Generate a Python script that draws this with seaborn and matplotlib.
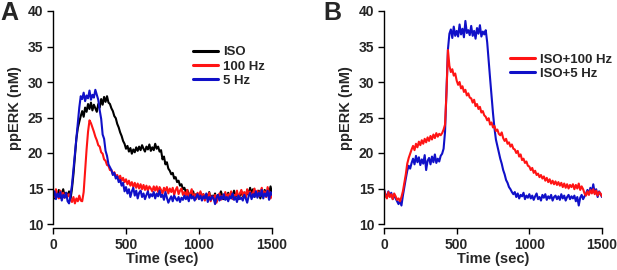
import matplotlib
matplotlib.use("Agg")
import matplotlib.pyplot as plt
import numpy as np
import seaborn as sns

# time axis, one reading every 10 sec
time_sec = np.arange(0, 1501, 10)

# panel A
iso = [
    14.2, 13.6, 14.5, 13.9, 14.8, 13.7, 14.3, 14.9, 13.8, 14.4,
    13.9, 14.6, 13.5, 15.0, 17.0, 19.5, 22.0, 23.5, 24.4, 25.2,
    25.9, 25.1, 26.4, 25.8, 26.9, 26.2, 27.1, 26.0, 26.8, 26.3,
    25.8, 26.9, 26.4, 27.6, 26.8, 27.9, 27.2, 28.0, 27.1, 26.9,
    26.3, 25.9, 25.2, 24.9, 24.1, 23.6, 22.9, 22.4, 21.7, 21.3,
    20.6, 21.0, 20.2, 20.7, 19.9, 20.5, 20.1, 20.8, 20.3, 20.9,
    20.4, 21.1, 20.6, 20.2, 20.9, 20.5, 21.2, 20.3, 20.8, 20.4,
    21.3, 20.6, 20.9, 20.2, 20.4, 19.1, 19.5, 18.4, 18.7, 17.8,
    17.5, 17.0, 17.2, 16.4, 16.6, 15.9, 16.1, 15.4, 15.6, 14.9,
    15.1, 14.5, 14.8, 14.1, 14.3, 13.9, 14.6, 13.7, 14.2, 14.0,
    13.6, 14.4, 13.9, 14.2, 13.5, 14.1, 13.8, 14.5, 13.4, 14.0,
    13.7, 14.3, 13.2, 14.1, 13.8, 14.6, 13.9, 13.5, 14.2, 13.8,
    14.4, 13.6, 14.1, 13.9, 14.7, 13.8, 14.3, 13.5, 14.0, 14.6,
    13.9, 14.2, 13.7, 14.8, 14.1, 15.1, 14.3, 14.9, 13.8, 14.5,
    14.1, 14.7, 13.6, 14.4, 14.0, 14.8, 13.9, 14.6, 14.2, 15.3,
    14.3,
]
hz100 = [
    14.5, 13.8, 14.9, 14.1, 13.6, 14.7, 14.0, 14.4, 13.7, 14.3,
    13.9, 14.2, 13.4, 13.1, 13.8, 12.9, 13.6, 13.2, 14.0, 13.3,
    13.2, 14.5, 17.5, 20.5, 23.0, 24.6, 24.2, 23.6, 23.0, 22.3,
    21.8, 21.1, 20.9, 20.1, 19.9, 19.1, 18.9, 18.3, 18.2, 17.6,
    17.6, 17.0, 17.3, 16.7, 16.9, 16.3, 16.8, 16.1, 16.5, 15.9,
    16.3, 15.6, 16.1, 15.4, 15.9, 15.2, 15.8, 15.1, 15.7, 15.0,
    15.6, 14.9, 15.5, 14.8, 15.4, 14.7, 15.3, 15.0, 14.6, 15.3,
    14.7, 15.3, 14.5, 15.2, 14.8, 14.3, 15.1, 14.6, 15.2, 14.3,
    15.0, 14.5, 15.1, 14.1, 14.8, 15.2, 14.2, 14.7, 15.0, 14.1,
    14.5, 14.0, 14.8, 13.6, 14.3, 14.9, 13.8, 14.2, 13.5, 14.4,
    13.9, 14.6, 13.7, 14.2, 13.3, 14.0, 13.6, 14.4, 13.2, 13.9,
    13.5, 14.1, 13.0, 13.8, 14.3, 13.4, 14.0, 13.7, 14.5, 13.6,
    14.2, 13.8, 14.6, 13.5, 14.1, 13.9, 14.7, 13.6, 14.3, 14.8,
    14.0, 14.5, 13.7, 14.9, 14.2, 14.6, 13.8, 14.4, 15.0, 14.1,
    14.7, 13.9, 14.5, 15.1, 14.0, 14.6, 13.8, 15.2, 14.3, 13.6,
    14.2,
]
hz5 = [
    14.0, 14.6, 13.5, 14.3, 13.8, 14.5, 13.3, 14.1, 13.7, 14.4,
    13.2, 12.9, 14.0, 15.5, 17.7, 19.9, 22.0, 24.2, 26.4, 28.0,
    27.6, 28.5, 27.3, 28.1, 27.7, 28.8, 27.5, 28.2, 27.8, 28.9,
    28.2, 27.5, 26.0, 24.8, 22.6, 22.0, 20.3, 19.6, 18.4, 18.0,
    17.6, 16.9, 17.2, 16.4, 16.7, 15.9, 16.2, 15.4, 15.8, 14.6,
    15.2, 14.3, 14.9, 13.8, 14.6, 15.1, 14.0, 14.7, 13.6, 14.4,
    14.7, 13.8, 14.3, 13.5, 14.1, 14.6, 13.7, 14.2, 13.9, 14.5,
    13.6, 14.3, 13.9, 14.7, 13.8, 14.1, 13.4, 14.5, 13.7, 13.0,
    13.5, 13.9, 13.2, 14.0, 13.6, 13.3, 13.8, 13.1, 13.7, 13.4,
    14.0, 13.5, 13.9, 13.2, 14.1, 13.6, 13.9, 13.3, 13.8, 14.2,
    13.5, 14.0, 13.3, 13.9, 13.6, 14.3, 13.1, 13.8, 13.4, 13.9,
    13.6, 12.8, 13.7, 14.1, 13.3, 13.9, 13.5, 14.2, 13.4, 13.8,
    13.2, 13.9, 13.6, 14.3, 13.4, 13.8, 13.1, 14.0, 13.5, 13.7,
    13.3, 14.1, 13.6, 13.0, 13.9, 14.4, 13.5, 14.2, 13.8, 14.6,
    13.7, 14.4, 13.9, 14.8, 13.6, 14.3, 13.9, 14.7, 13.4, 14.5,
    14.1,
]

# panel B
iso_hz100 = [
    14.8, 14.0, 13.6, 14.5, 13.8, 14.2, 13.5, 14.3, 13.9, 13.4,
    13.6, 13.2, 13.8, 14.6, 15.8, 17.0, 18.5, 19.3, 19.9, 20.5,
    21.0, 20.4, 21.3, 20.8, 21.6, 21.1, 21.8, 21.3, 22.0, 21.5,
    22.2, 21.7, 22.4, 21.9, 22.6, 22.1, 22.8, 22.3, 22.7, 22.5,
    22.8, 23.3, 24.0, 28.5, 34.5, 32.3, 31.4, 31.8, 30.9, 31.2,
    30.2, 29.6, 30.0, 29.1, 29.4, 28.6, 28.9, 28.1, 28.4, 27.8,
    27.7, 27.1, 27.5, 26.6, 26.9, 26.2, 26.5, 25.7, 25.9, 25.3,
    25.1, 24.6, 24.9, 24.0, 24.3, 23.6, 23.8, 23.1, 23.3, 22.7,
    22.5, 22.9, 22.1, 21.7, 22.0, 21.3, 21.5, 20.9, 21.2, 20.6,
    20.5, 20.0, 20.3, 19.5, 19.8, 19.0, 19.2, 18.6, 18.8, 18.2,
    18.1, 17.6, 17.9, 17.2, 17.5, 16.9, 17.1, 16.6, 16.9, 16.4,
    16.7, 16.1, 16.5, 15.9, 16.3, 15.7, 16.1, 15.6, 16.0, 15.5,
    15.9, 15.4, 15.8, 15.2, 15.7, 15.1, 15.6, 15.0, 15.5, 15.2,
    15.6, 14.9, 15.5, 15.0, 15.7, 14.8, 15.3, 14.9, 14.3, 14.0,
    14.6, 14.1, 14.8, 14.3, 14.9, 14.2, 14.7, 14.0, 14.5, 14.3,
    13.9,
]
iso_hz5 = [
    14.9, 14.2, 13.7, 14.6, 13.9, 14.4, 13.5, 14.1, 13.6, 13.2,
    12.8, 13.3, 12.6, 14.0, 15.2, 16.4, 17.5, 18.2, 17.8, 18.6,
    19.2, 18.4, 19.6, 18.7, 19.4, 18.3, 19.1, 18.5, 19.7, 17.6,
    18.9, 19.3, 18.4, 19.5, 18.7, 19.8, 18.6, 19.2, 18.8, 19.6,
    19.9, 20.6, 23.0, 29.0, 34.6, 36.8, 37.4, 36.2, 37.8, 36.5,
    37.2, 36.4, 38.1, 36.7, 37.5, 36.3, 38.6, 36.9, 37.3, 36.6,
    37.9, 36.5, 37.2, 36.1, 37.6, 36.8, 38.0, 36.4, 37.1, 36.7,
    37.3, 35.6, 33.0, 30.5, 28.0, 25.6, 23.5, 21.9, 21.0, 20.1,
    19.2, 18.5, 17.6, 17.0, 16.2, 15.8, 15.2, 14.9, 14.5, 14.2,
    14.5, 13.8, 14.3, 13.6, 14.1, 13.9, 14.4, 13.5, 14.0, 13.7,
    14.2, 13.6, 14.0, 13.4, 13.9, 14.3, 13.5, 13.8, 13.3, 14.1,
    13.7, 14.2, 13.4, 13.9, 13.6, 14.1, 13.3, 13.8, 14.0, 13.5,
    13.9, 13.4, 14.2, 13.6, 14.0, 13.3, 13.8, 14.1, 13.5, 13.9,
    13.6, 14.0, 13.2, 13.8, 12.6, 13.7, 14.1, 13.5, 13.9, 14.3,
    14.8, 14.2, 15.1, 14.5, 15.6, 14.3, 14.9, 13.8, 14.6, 14.2,
    13.8,
]

x_ticks = [0, 500, 1000, 1500]
y_ticks = [10, 15, 20, 25, 30, 35, 40]

RED = "#ff1414"
BLUE = "#1010c8"
LW = 1.5

sns.set_style("ticks")
plt.rcParams['font.family'] = ['Liberation Sans', 'DejaVu Sans']
plt.rcParams['font.weight'] = 'bold'
plt.rcParams['axes.labelweight'] = 'bold'

fig = plt.figure(figsize=(6.17, 2.70), dpi=100)
ax1 = fig.add_axes([53 / 617, 46 / 270, 219 / 617, 213 / 270])
ax2 = fig.add_axes([384 / 617, 46 / 270, 218 / 617, 213 / 270])

# panel A traces
sns.lineplot(x=time_sec, y=iso, color="black", linewidth=LW, label="ISO", ax=ax1)
sns.lineplot(x=time_sec, y=hz100, color=RED, linewidth=LW, label="100 Hz", ax=ax1)
sns.lineplot(x=time_sec, y=hz5, color=BLUE, linewidth=LW, label="5 Hz", ax=ax1)

# panel B traces (blue drawn first, red on top)
sns.lineplot(x=time_sec, y=iso_hz5, color=BLUE, linewidth=LW, label="ISO+5 Hz", ax=ax2)
sns.lineplot(x=time_sec, y=iso_hz100, color=RED, linewidth=LW, label="ISO+100 Hz", ax=ax2)

for ax in (ax1, ax2):
    ax.set_xlim(0, 1500)
    ax.set_ylim(10, 40)
    ax.set_xticks(x_ticks)
    ax.set_yticks(y_ticks)
    ax.tick_params(direction="out", length=4, width=1, labelsize=10, pad=3, color="black")
    for lab in ax.get_xticklabels() + ax.get_yticklabels():
        lab.set_fontweight("bold")
    sns.despine(ax=ax)
    ax.spines["bottom"].set_position(("outward", 3))
    for side in ("left", "bottom"):
        ax.spines[side].set_linewidth(1)
        ax.spines[side].set_color("black")
    ax.set_xlabel("Time (sec)", fontsize=10.5, fontweight="bold", labelpad=0)
    ax.set_ylabel("ppERK (nM)", fontsize=10.5, fontweight="bold")
    ax.yaxis.set_label_coords(-0.14, 0.545)

# legends
h, l = ax1.get_legend_handles_labels()
ax1.legend(h, l, loc="upper left", bbox_to_anchor=(0.64, 0.835), frameon=False,
           handlelength=1.9, handletextpad=0.35, labelspacing=0.15,
           borderpad=0, borderaxespad=0, prop={"weight": "bold", "size": 9.5})
h, l = ax2.get_legend_handles_labels()
ax2.legend(h[::-1], l[::-1], loc="upper left", bbox_to_anchor=(0.578, 0.80), frameon=False,
           handlelength=1.9, handletextpad=0.35, labelspacing=0.15,
           borderpad=0, borderaxespad=0, prop={"weight": "bold", "size": 9.5})
for leg in (ax1.get_legend(), ax2.get_legend()):
    for line in leg.get_lines():
        line.set_linewidth(2.2)

# panel letters
fig.text(0.0, 0.995, "A", fontsize=18, fontweight="bold", va="top", ha="left")
fig.text(323 / 617, 0.995, "B", fontsize=18, fontweight="bold", va="top", ha="left")

fig.savefig("out.png", dpi=100)
